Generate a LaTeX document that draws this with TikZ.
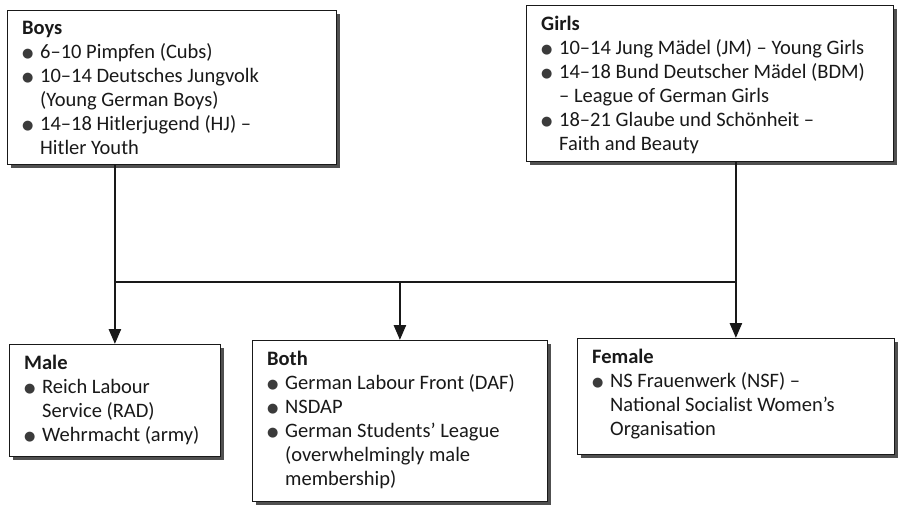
\documentclass[tikz,border=0pt]{standalone}
\usepackage{fontspec}
\setmainfont{Carlito}
\newfontfamily\dotfont{DejaVu Sans}
\usetikzlibrary{arrows.meta,shadows}

\definecolor{orgink}{RGB}{25, 25, 25}
\definecolor{orgshadow}{RGB}{80, 80, 80}

\newcommand{\bul}{\makebox[18pt][l]{\raisebox{1pt}{\dotfont\fontsize{13}{13}\selectfont\textcolor{orgink!85}{●}}}}
\newcommand{\ind}{\hspace*{18pt}}

\begin{document}
\begin{tikzpicture}[x=1pt, y=-1pt,
    box/.style={draw=orgink, line width=0.8pt, fill=white, inner sep=0pt,
                anchor=north west,
                drop shadow={shadow xshift=4pt, shadow yshift=-4pt,
                             fill=orgshadow, opacity=1}},
    boxtext/.style={anchor=north west, inner sep=0pt, align=left,
                    font=\fontsize{20.5}{24}\selectfont, text=orgink},
    link/.style={orgink, line width=2.6pt},
    linkarrow/.style={link, -{Triangle[width=12pt, length=15pt]}},
]

\useasboundingbox (0,0) rectangle (902,506);

% ================================================================
% TOP ROW: youth groups
% ================================================================
\node[box, minimum width=329pt, minimum height=154pt] (boys) at (7,10) {};
\node[boxtext] (boystext) at ([xshift=15pt, yshift=-11pt]boys.north west)
  {\textbf{Boys}\\
   \bul 6–10 Pimpfen (Cubs)\\
   \bul 10–14 Deutsches Jungvolk\\
   \ind (Young German Boys)\\
   \bul 14–18 Hitlerjugend (HJ) –\\
   \ind Hitler Youth};

\node[box, minimum width=367pt, minimum height=156pt] (girls) at (526,5) {};
\node[boxtext] (girlstext) at ([xshift=15pt, yshift=-11pt]girls.north west)
  {\textbf{Girls}\\
   \bul 10–14 Jung Mädel (JM) – Young Girls\\
   \bul 14–18 Bund Deutscher Mädel (BDM)\\
   \ind – League of German Girls\\
   \bul 18–21 Glaube und Schönheit –\\
   \ind Faith and Beauty};

% ================================================================
% BOTTOM ROW: adult organisations
% ================================================================
\node[box, minimum width=211pt, minimum height=112pt] (male) at (9,344) {};
\node[boxtext] (maletext) at ([xshift=15pt, yshift=-11pt]male.north west)
  {\textbf{Male}\\
   \bul Reich Labour\\
   \ind Service (RAD)\\
   \bul Wehrmacht (army)};

\node[box, minimum width=295pt, minimum height=161pt] (both) at (252,340) {};
\node[boxtext] (bothtext) at ([xshift=15pt, yshift=-11pt]both.north west)
  {\textbf{Both}\\
   \bul German Labour Front (DAF)\\
   \bul NSDAP\\
   \bul German Students’ League\\
   \ind (overwhelmingly male\\
   \ind membership)};

\node[box, minimum width=317pt, minimum height=116pt] (female) at (577,338) {};
\node[boxtext] (femaletext) at ([xshift=15pt, yshift=-11pt]female.north west)
  {\textbf{Female}\\
   \bul NS Frauenwerk (NSF) –\\
   \ind National Socialist Women’s\\
   \ind Organisation};

% ================================================================
% CONNECTORS
% ================================================================
\coordinate (bus) at (0,282);

\draw[link, line cap=rect] (male.north |- bus) -- (female.north |- bus);
\draw[linkarrow] (male.north |- boys.south) -- (male.north);
\draw[linkarrow] (female.north |- girls.south) -- (female.north);
\draw[linkarrow] (both.north |- bus) -- (both.north);

\end{tikzpicture}
\end{document}
